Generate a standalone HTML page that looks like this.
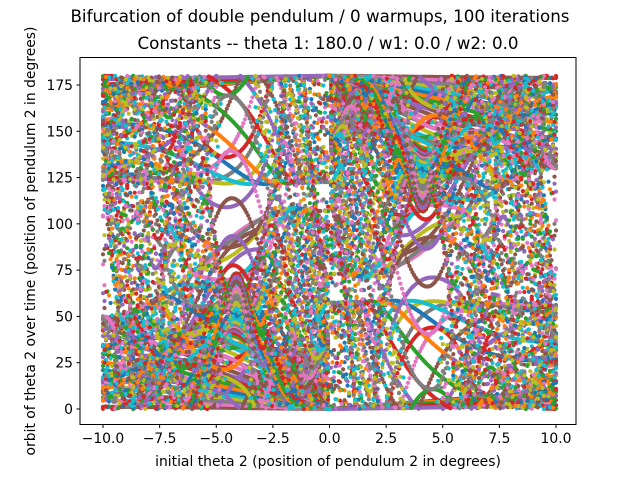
<!DOCTYPE html>
<html><head><meta charset="utf-8"><style>
body{margin:0;background:#fff;width:640px;height:478px;overflow:hidden;font-family:"Liberation Sans","DejaVu Sans",sans-serif}
text{font-family:"DejaVu Sans","Liberation Sans",sans-serif}
</style></head><body>
<svg id="chart" width="640" height="478" xmlns="http://www.w3.org/2000/svg">
<text x="320" y="22" font-size="16.7" text-anchor="middle">Bifurcation of double pendulum / 0 warmups, 100 iterations</text>
<text x="328" y="49" font-size="16.7" text-anchor="middle">Constants -- theta 1: 180.0 / w1: 0.0 / w2: 0.0</text>
<g id="marks"></g>
<rect x="80" y="57.5" width="496" height="367" fill="none" stroke="#000" stroke-width="1"/>
<g id="xt"></g>
<g id="yt"></g>
<text x="328" y="466" font-size="13.9" text-anchor="middle">initial theta 2 (position of pendulum 2 in degrees)</text>
<text transform="translate(35,241) rotate(-90)" font-size="13.9" text-anchor="middle">orbit of theta 2 over time (position of pendulum 2 in degrees)</text>
</svg>
<script>
const theta1Init = [180.0];
const w1Init = [0.0];
const w2Init = [0.0];
const theta2Range = [-10.0, 10.0];
const theta2Count = [301];
const iterations = [100];
const xTicks = [-10.0, -7.5, -5.0, -2.5, 0.0, 2.5, 5.0, 7.5, 10.0];
const yTicks = [0, 25, 50, 75, 100, 125, 150, 175];
const colors = ['#1f77b4','#ff7f0e','#2ca02c','#d62728','#9467bd','#8c564b','#e377c2','#7f7f7f','#bcbd22','#17becf'];

const NS='http://www.w3.org/2000/svg';
const xs=v=>103+(v+10)*(453/20);
const ys=v=>409-v*(324/175);

function deriv(s){
  const [t1,t2,w1,w2]=s,g=9.81,d=t1-t2;
  const den=3-Math.cos(2*t1-2*t2);
  const a1=(-g*3*Math.sin(t1)-g*Math.sin(t1-2*t2)-2*Math.sin(d)*(w2*w2+w1*w1*Math.cos(d)))/den;
  const a2=(2*Math.sin(d)*(w1*w1*2+g*2*Math.cos(t1)+w2*w2*Math.cos(d)))/den;
  return [w1,w2,a1,a2];
}
function rk4(s,h){
  const k1=deriv(s),k2=deriv(s.map((v,i)=>v+h/2*k1[i])),k3=deriv(s.map((v,i)=>v+h/2*k2[i])),k4=deriv(s.map((v,i)=>v+h*k3[i]));
  return s.map((v,i)=>v+h/6*(k1[i]+2*k2[i]+2*k3[i]+k4[i]));
}
const n=theta2Count[0], N=iterations[0];
const orbits=[];
for(let c=0;c<n;c++){
  const t2=theta2Range[0]+(theta2Range[1]-theta2Range[0])*c/(n-1);
  let s=[theta1Init[0]*Math.PI/180,t2*Math.PI/180,w1Init[0],w2Init[0]];
  const o=[];
  for(let k=0;k<N;k++){
    for(let j=0;j<4;j++) s=rk4(s,0.015);
    let deg=s[1]*180/Math.PI;
    deg=((deg%180)+180)%180;
    o.push(deg);
  }
  orbits.push([t2,o]);
}
const marks=document.getElementById('marks');
const frag=document.createDocumentFragment();
for(let k=0;k<N;k++){
  const col=colors[k%10];
  for(let c=0;c<n;c++){
    const p=document.createElementNS(NS,'circle');
    
    
    p.setAttribute('cx',xs(orbits[c][0]).toFixed(1));p.setAttribute('cy',ys(orbits[c][1][k]).toFixed(1));
    p.setAttribute('r','2.1');p.setAttribute('fill',col);
    frag.appendChild(p);
  }
}
marks.appendChild(frag);
const xt=document.getElementById('xt');
xTicks.forEach(v=>{
  const x=xs(v);
  const l=document.createElementNS(NS,'line');
  
  
  l.setAttribute('x1',x);l.setAttribute('x2',x);l.setAttribute('y1',424.5);l.setAttribute('y2',428);l.setAttribute('stroke','#000');
  xt.appendChild(l);
  const t=document.createElementNS(NS,'text');
  
  
  t.setAttribute('x',x);t.setAttribute('y',443);t.setAttribute('font-size','13.9');t.setAttribute('text-anchor','middle');
  t.textContent=(v<0?'\u2212':'')+Math.abs(v).toFixed(1);
  xt.appendChild(t);
});
const yt=document.getElementById('yt');
yTicks.forEach(v=>{
  const y=ys(v);
  const l=document.createElementNS(NS,'line');
  
  
  l.setAttribute('x1',76.5);l.setAttribute('x2',80);l.setAttribute('y1',y);l.setAttribute('y2',y);l.setAttribute('stroke','#000');
  yt.appendChild(l);
  const t=document.createElementNS(NS,'text');
  
  
  t.setAttribute('x',73);t.setAttribute('y',y+5);t.setAttribute('font-size','13.9');t.setAttribute('text-anchor','end');
  t.textContent=v;
  yt.appendChild(t);
});
</script>
</body></html>
